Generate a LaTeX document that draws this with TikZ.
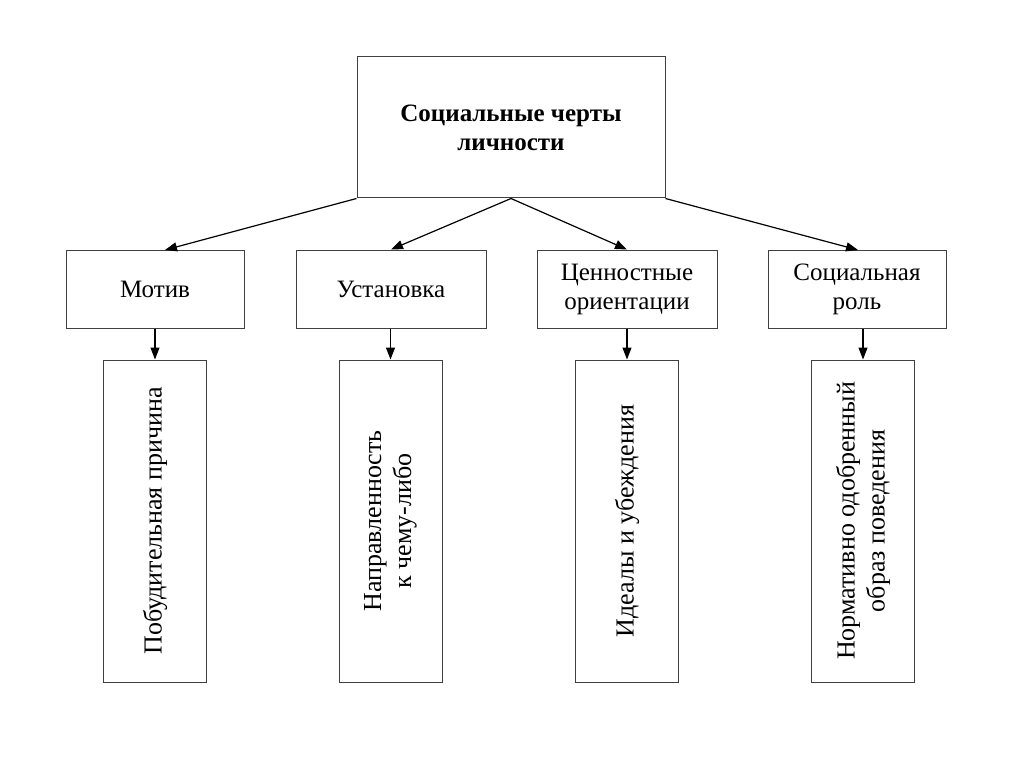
\documentclass[tikz,border=0pt]{standalone}
\usepackage{fontspec}
\setmainfont{Liberation Serif}
\usetikzlibrary{arrows.meta}
\begin{document}
\begin{tikzpicture}[x=1pt,y=-1pt,
  box/.style={draw=black!75, line width=1pt, fill=white, align=center, inner sep=0pt, font=\fontsize{25}{29}\selectfont},
  vtext/.style={rotate=90, align=center, font=\fontsize{26}{30}\selectfont},
  arr/.style={line width=1.2pt, -{Triangle[length=12pt,width=9pt]}},
  tbox/.style={box, font=\fontsize{25}{29}\selectfont\bfseries}]
\useasboundingbox[fill=white] (0,0) rectangle (1024,767);
% top
\node[tbox, minimum width=308pt, minimum height=141pt] (top) at (511,127.5) {Социальные черты\\личности};
% second row
\node[box, minimum width=178pt, minimum height=78pt] (m) at (155,289) {Мотив};
\node[box, minimum width=190pt, minimum height=78pt] (u) at (391,289) {Установка};
\node[box, minimum width=180pt, minimum height=78pt] (c) at (627,289) {Ценностные\\ориентации};
\node[box, minimum width=178pt, minimum height=78pt] (s) at (857,289) {Социальная\\роль};
% third row
\node[box, minimum width=103pt, minimum height=322pt] (m2) at (155,521) {};
\node[box, minimum width=103pt, minimum height=322pt] (u2) at (390.5,521) {};
\node[box, minimum width=103pt, minimum height=322pt] (c2) at (627,521) {};
\node[box, minimum width=103pt, minimum height=322pt] (s2) at (863,521) {};
\node[vtext] (m2t) at (m2.center) {Побудительная причина};
\node[vtext] (u2t) at (u2.center) {Направленность\\к чему-либо};
\node[vtext] (c2t) at (c2.center) {Идеалы и убеждения};
\node[vtext] (s2t) at (s2.center) {Нормативно одобренный\\образ поведения};
% connectors
\coordinate (tm) at (165,250);
\coordinate (ts) at (858,250);
\draw[arr] (top.south west) -- (tm);
\draw[arr] (top.south) -- (u.north);
\draw[arr] (top.south) -- (c.north);
\draw[arr] (top.south east) -- (ts);
\draw[arr] (m.south) -- (m2.north);
\draw[arr] (u.south -| u2.north) -- (u2.north);
\draw[arr] (c.south) -- (c2.north);
\draw[arr] (s.south -| s2.north) -- (s2.north);
\end{tikzpicture}
\end{document}
